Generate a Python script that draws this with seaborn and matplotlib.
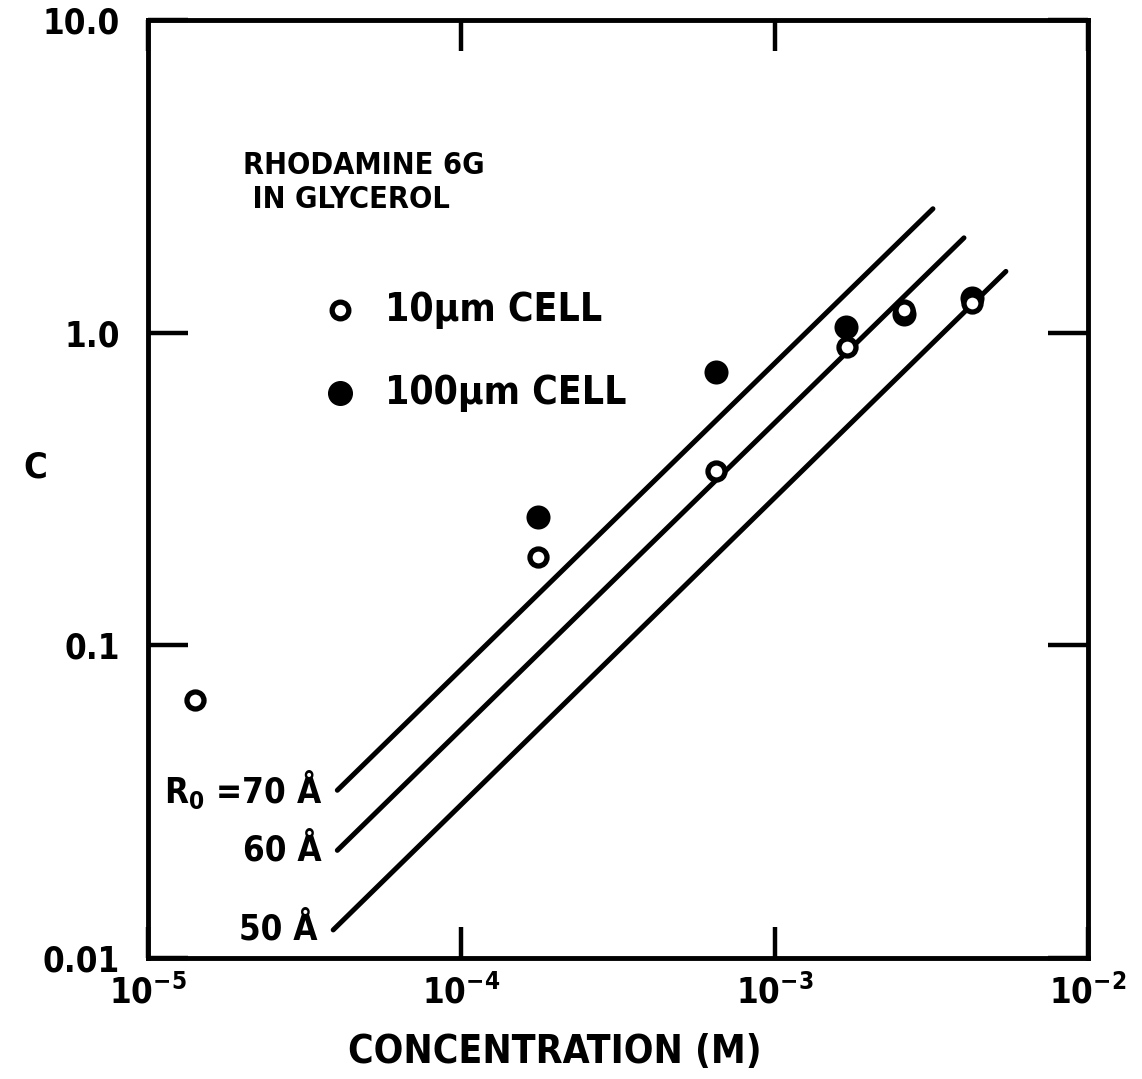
import numpy as np
import pandas as pd
import matplotlib
matplotlib.use("Agg")
import matplotlib.pyplot as plt
import seaborn as sns

# Measured quenching parameter C versus dye concentration
conc_10um = [1.41e-5, 1.76e-4, 6.48e-4, 1.70e-3, 2.58e-3, 4.26e-3]
c_10um = [0.0667, 0.191, 0.362, 0.90, 1.18, 1.24]

conc_100um = [1.76e-4, 6.48e-4, 1.69e-3, 2.58e-3, 4.26e-3]
c_100um = [0.258, 0.75, 1.04, 1.15, 1.29]

# Theoretical curves for three Forster radii (end points of each line)
r0_labels = ["R$_0$ =70 \u00c5", "60 \u00c5", "50 \u00c5"]
line_conc_start = [4.02e-5, 4.02e-5, 3.90e-5]
line_conc_end = [3.20e-3, 4.02e-3, 5.47e-3]
line_c_start = [0.0344, 0.0221, 0.0123]
line_c_end = [2.49, 2.01, 1.57]

x_ticks = [1e-5, 1e-4, 1e-3, 1e-2]
x_ticklabels = [r"$10^{-5}$", r"$10^{-4}$", r"$10^{-3}$", r"$10^{-2}$"]
y_ticks = [0.01, 0.1, 1.0, 10.0]
y_ticklabels = ["0.01", "0.1", "1.0", "10.0"]

sns.set_theme(style="white")
plt.rcParams["font.family"] = ["DejaVu Sans"]
plt.rcParams["font.stretch"] = "condensed"
plt.rcParams["font.weight"] = "bold"
plt.rcParams["mathtext.fontset"] = "custom"
plt.rcParams["mathtext.rm"] = "DejaVu Sans:bold"
plt.rcParams["mathtext.it"] = "DejaVu Sans:bold"
plt.rcParams["mathtext.bf"] = "DejaVu Sans:bold"
plt.rcParams["mathtext.default"] = "rm"
plt.rcParams["text.color"] = "black"
plt.rcParams["axes.labelcolor"] = "black"
plt.rcParams["axes.labelweight"] = "bold"

fig = plt.figure(figsize=(11.42, 10.79), dpi=100)
ax = fig.add_axes([0.1296, 0.1121, 0.8231, 0.8694])
ax.set_xscale("log")
ax.set_yscale("log")

lines_df = pd.DataFrame({
    "conc": sum([[a, b] for a, b in zip(line_conc_start, line_conc_end)], []),
    "c": sum([[a, b] for a, b in zip(line_c_start, line_c_end)], []),
    "r0": sum([[lab, lab] for lab in r0_labels], []),
})
sns.lineplot(data=lines_df, x="conc", y="c", units="r0", estimator=None,
             color="black", linewidth=3.6, solid_capstyle="round",
             legend=False, ax=ax, zorder=2)

df100 = pd.DataFrame({"conc": conc_100um, "c": c_100um})
sns.scatterplot(data=df100, x="conc", y="c", marker="o", s=300,
                color="black", edgecolor="black", linewidth=0,
                legend=False, ax=ax, zorder=3)

df10 = pd.DataFrame({"conc": conc_10um, "c": c_10um})
sns.scatterplot(data=df10, x="conc", y="c", marker="o", s=150,
                facecolor="white", edgecolor="black", linewidth=3.8,
                legend=False, ax=ax, zorder=4)

ax.set_xlim(1e-5, 1e-2)
ax.set_ylim(0.01, 10.0)
ax.set_xticks(x_ticks)
ax.set_xticklabels(x_ticklabels)
ax.set_yticks(y_ticks)
ax.set_yticklabels(y_ticklabels)
ax.minorticks_off()

for sp in ax.spines.values():
    sp.set_visible(True)
    sp.set_color("black")
    sp.set_linewidth(3.5)

ax.tick_params(axis="both", which="major", direction="in", color="black",
               width=3.2, top=True, right=True, bottom=True, left=True,
               labelsize=25, labelcolor="black")
ax.tick_params(axis="x", length=22, pad=12)
ax.tick_params(axis="y", length=29, pad=20)

ax.set_xlabel("CONCENTRATION (M)", fontsize=28)
ax.xaxis.set_label_coords(0.433, -0.08)
ax.set_ylabel("C", fontsize=26, rotation=0)
ax.yaxis.set_label_coords(-0.12, 0.505)

# Sample description
ax.text(0.101, 0.827, "RHODAMINE 6G\n IN GLYCEROL", transform=ax.transAxes,
        fontsize=22, ha="left", va="center", linespacing=1.2)

# Hand-made legend
ax.plot([0.2042], [0.6911], transform=ax.transAxes, marker="o", ms=12,
        mfc="white", mec="black", mew=3.8, ls="none", clip_on=False)
ax.text(0.252, 0.6911, "10\u03bcm CELL", transform=ax.transAxes,
        fontsize=28, ha="left", va="center")
ax.plot([0.2042], [0.6027], transform=ax.transAxes, marker="o", ms=17,
        mfc="black", mec="black", ls="none", clip_on=False)
ax.text(0.252, 0.6027, "100\u03bcm CELL", transform=ax.transAxes,
        fontsize=28, ha="left", va="center")

# Labels next to the theoretical lines
for lab, x0, y0 in zip(r0_labels, line_conc_start, line_c_start):
    ax.text(x0 / 1.12, y0, lab, fontsize=25, ha="right", va="center")

fig.savefig("out.png", dpi=100, facecolor="white")
